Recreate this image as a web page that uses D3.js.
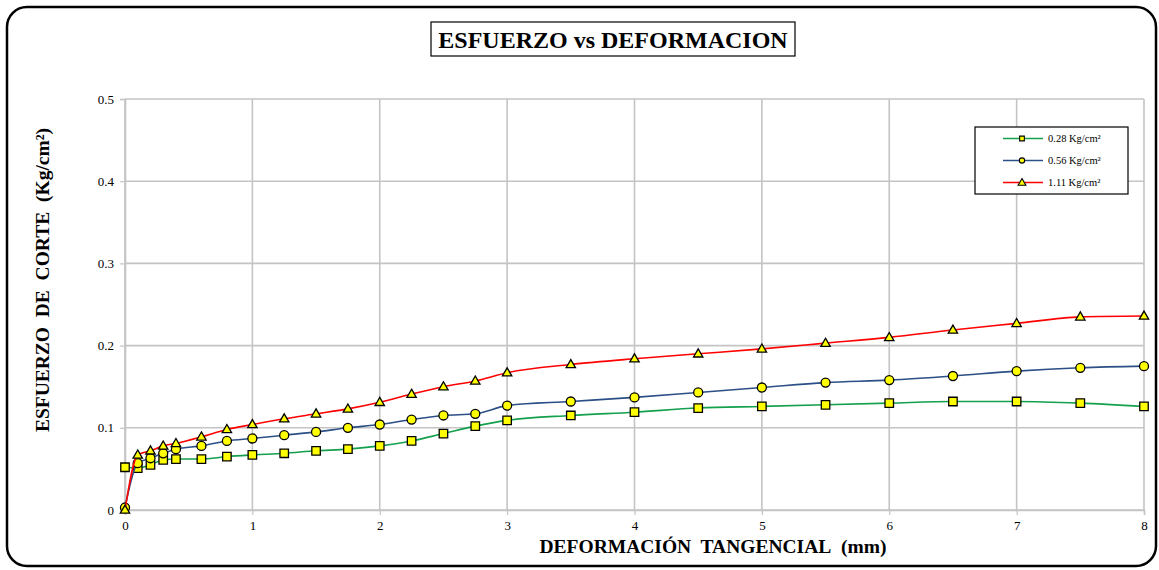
<!DOCTYPE html>
<html>
<head>
<meta charset="utf-8">
<script src="https://cdn.jsdelivr.net/npm/d3@7"></script>
<style>
  body { margin: 0; background: #fff; }
  svg { display: block; }
</style>
</head>
<body>
<svg id="chart"></svg>
<script>
// ------------------------------------------------------------------
//  Esfuerzo vs Deformacion (corte directo)
// ------------------------------------------------------------------

var width = 1159,
    height = 570;
var serif = "'Liberation Serif', 'Times New Roman', Times, 'DejaVu Serif', serif";

// deformacion tangencial (mm)
var deformacion = [0, 0.1, 0.2, 0.3, 0.4, 0.6, 0.8, 1.0, 1.25, 1.5, 1.75, 2.0, 2.25,
  2.5, 2.75, 3.0, 3.5, 4.0, 4.5, 5.0, 5.5, 6.0, 6.5, 7.0, 7.5, 8.0];

// esfuerzo de corte (Kg/cm2) por carga normal
var esf028 = [0.052, 0.051, 0.055, 0.061, 0.062, 0.062, 0.065, 0.067, 0.069, 0.072, 0.074,
  0.078, 0.084, 0.093, 0.102, 0.109, 0.115, 0.119, 0.124, 0.126, 0.128, 0.130, 0.132,
  0.132, 0.130, 0.126];
var esf056 = [0.003, 0.057, 0.063, 0.069, 0.074, 0.078, 0.084, 0.087, 0.091, 0.095, 0.100,
  0.104, 0.110, 0.115, 0.117, 0.127, 0.132, 0.137, 0.143, 0.149, 0.155, 0.158, 0.163,
  0.169, 0.173, 0.175];
var esf111 = [0.000, 0.067, 0.072, 0.078, 0.081, 0.089, 0.098, 0.104, 0.111, 0.117, 0.123,
  0.131, 0.141, 0.150, 0.157, 0.167, 0.177, 0.184, 0.190, 0.196, 0.203, 0.210, 0.219,
  0.227, 0.235, 0.236];

var seriesNames = ["0.28 Kg/cm²", "0.56 Kg/cm²", "1.11 Kg/cm²"];
var seriesColors = ["#14a04c", "#2b4f86", "#ff0000"];
var seriesMarkers = ["square", "circle", "triangle"];

var xTicks = [0, 1, 2, 3, 4, 5, 6, 7, 8];
var yTicks = [0, 0.1, 0.2, 0.3, 0.4, 0.5];

var series = [esf028, esf056, esf111].map(function (vals, i) {
  return {
    name: seriesNames[i],
    color: seriesColors[i],
    marker: seriesMarkers[i],
    points: vals.map(function (v, j) { return { x: deformacion[j], y: v }; })
  };
});

var svg = d3.select("#chart")
  .attr("width", width)
  .attr("height", height)
  .attr("font-family", serif);

// marco exterior
svg.append("rect")
  .attr("x", 7).attr("y", 7)
  .attr("width", 1149).attr("height", 559)
  .attr("rx", 20).attr("ry", 20)
  .attr("fill", "#fff")
  .attr("stroke", "#000")
  .attr("stroke-width", 2.5);

// titulo con recuadro
svg.append("rect")
  .attr("x", 431).attr("y", 22)
  .attr("width", 364).attr("height", 34)
  .attr("fill", "#fff")
  .attr("stroke", "#000")
  .attr("stroke-width", 1.2);
svg.append("text")
  .attr("x", 613).attr("y", 48)
  .attr("text-anchor", "middle")
  .attr("font-family", serif)
  .attr("font-size", 24)
  .attr("font-weight", "bold")
  .text("ESFUERZO vs DEFORMACION");

var plot = { left: 125, right: 1144, top: 99, bottom: 510 };

var x = d3.scaleLinear().domain([0, 8]).range([plot.left, plot.right]);
var y = d3.scaleLinear().domain([0, 0.5]).range([plot.bottom, plot.top]);

// grilla
var grid = svg.append("g").attr("stroke", "#c4c4c4").attr("stroke-width", 1.6);
grid.selectAll(".gx").data(xTicks).enter().append("line")
  .attr("x1", d => x(d)).attr("x2", d => x(d))
  .attr("y1", plot.top).attr("y2", plot.bottom);
grid.selectAll(".gy").data(yTicks).enter().append("line")
  .attr("x1", plot.left).attr("x2", plot.right)
  .attr("y1", d => y(d)).attr("y2", d => y(d));

// ejes
var xAxis = svg.append("g")
  .attr("transform", `translate(0,${plot.bottom})`)
  .call(d3.axisBottom(x).tickValues(xTicks).tickFormat(d3.format("d")).tickSize(5).tickPadding(6));
var yAxis = svg.append("g")
  .attr("transform", `translate(${plot.left},0)`)
  .call(d3.axisLeft(y).tickValues(yTicks).tickFormat(d => d === 0 ? "0" : d3.format(".1f")(d)).tickSize(5).tickPadding(6));

[xAxis, yAxis].forEach(function (a) {
  a.attr("font-family", serif).attr("font-size", 13);
  a.select(".domain").attr("stroke", "#c4c4c4").attr("stroke-width", 1.6);
  a.selectAll(".tick line").attr("stroke", "#c4c4c4").attr("stroke-width", 1.2);
  a.selectAll(".tick text").attr("fill", "#000");
});

// titulos de ejes (dobles espacios como en el original)
svg.append("text")
  .attr("x", 713).attr("y", 553)
  .attr("text-anchor", "middle")
  .attr("font-family", serif)
  .attr("font-size", 19.5)
  .attr("font-weight", "bold")
  .text("DEFORMACIÓN\u00a0 TANGENCIAL\u00a0 (mm)");

svg.append("text")
  .attr("transform", "translate(49,280) rotate(-90)")
  .attr("text-anchor", "middle")
  .attr("font-family", serif)
  .attr("font-size", 19.5)
  .attr("font-weight", "bold")
  .text("ESFUERZO\u00a0 DE\u00a0 CORTE\u00a0 (Kg/cm²)");

// simbolos
function markerPath(type, size) {
  if (type === "square") return d3.symbol(d3.symbolSquare, size)();
  if (type === "circle") return d3.symbol(d3.symbolCircle, size)();
  return d3.symbol(d3.symbolTriangle, size)();
}

var line = d3.line()
  .x(d => x(d.x))
  .y(d => y(d.y))
  .curve(d3.curveMonotoneX);

var sg = svg.selectAll(".serie")
  .data(series)
  .enter()
  .append("g")
  .attr("class", "serie");

sg.append("path")
  .attr("d", d => line(d.points))
  .attr("fill", "none")
  .attr("stroke", d => d.color)
  .attr("stroke-width", 1.6);

sg.each(function (s) {
  var size = s.marker === "square" ? 72 : (s.marker === "circle" ? 64 : 38);
  d3.select(this).selectAll(".pt")
    .data(s.points)
    .enter()
    .append("path")
    .attr("transform", d => `translate(${x(d.x)},${y(d.y) + (s.marker === "triangle" ? 0.5 : 0)})`)
    .attr("d", markerPath(s.marker, size))
    .attr("fill", "#ffff00")
    .attr("stroke", "#000")
    .attr("stroke-width", 1.3);
});

// leyenda
var legend = svg.append("g");
legend.append("rect")
  .attr("x", 975).attr("y", 127)
  .attr("width", 153).attr("height", 67)
  .attr("fill", "#fff")
  .attr("stroke", "#000")
  .attr("stroke-width", 1.2);

var li = legend.selectAll(".li")
  .data(series)
  .enter()
  .append("g")
  .attr("transform", (d, i) => `translate(0,${138.5 + i * 22})`);

li.append("line")
  .attr("x1", 1003).attr("x2", 1043)
  .attr("y1", 0).attr("y2", 0)
  .attr("stroke", d => d.color)
  .attr("stroke-width", 1.6);
li.append("path")
  .attr("transform", d => `translate(1022,${d.marker === "triangle" ? 0.5 : 0})`)
  .attr("d", d => markerPath(d.marker, d.marker === "triangle" ? 26 : 22))
  .attr("fill", "#ffff00")
  .attr("stroke", "#000")
  .attr("stroke-width", 1.1);
li.append("text")
  .attr("x", 1048).attr("y", 3.5)
  .attr("font-family", serif)
  .attr("font-size", 10.5)
  .text(d => d.name);
</script>
</body>
</html>
